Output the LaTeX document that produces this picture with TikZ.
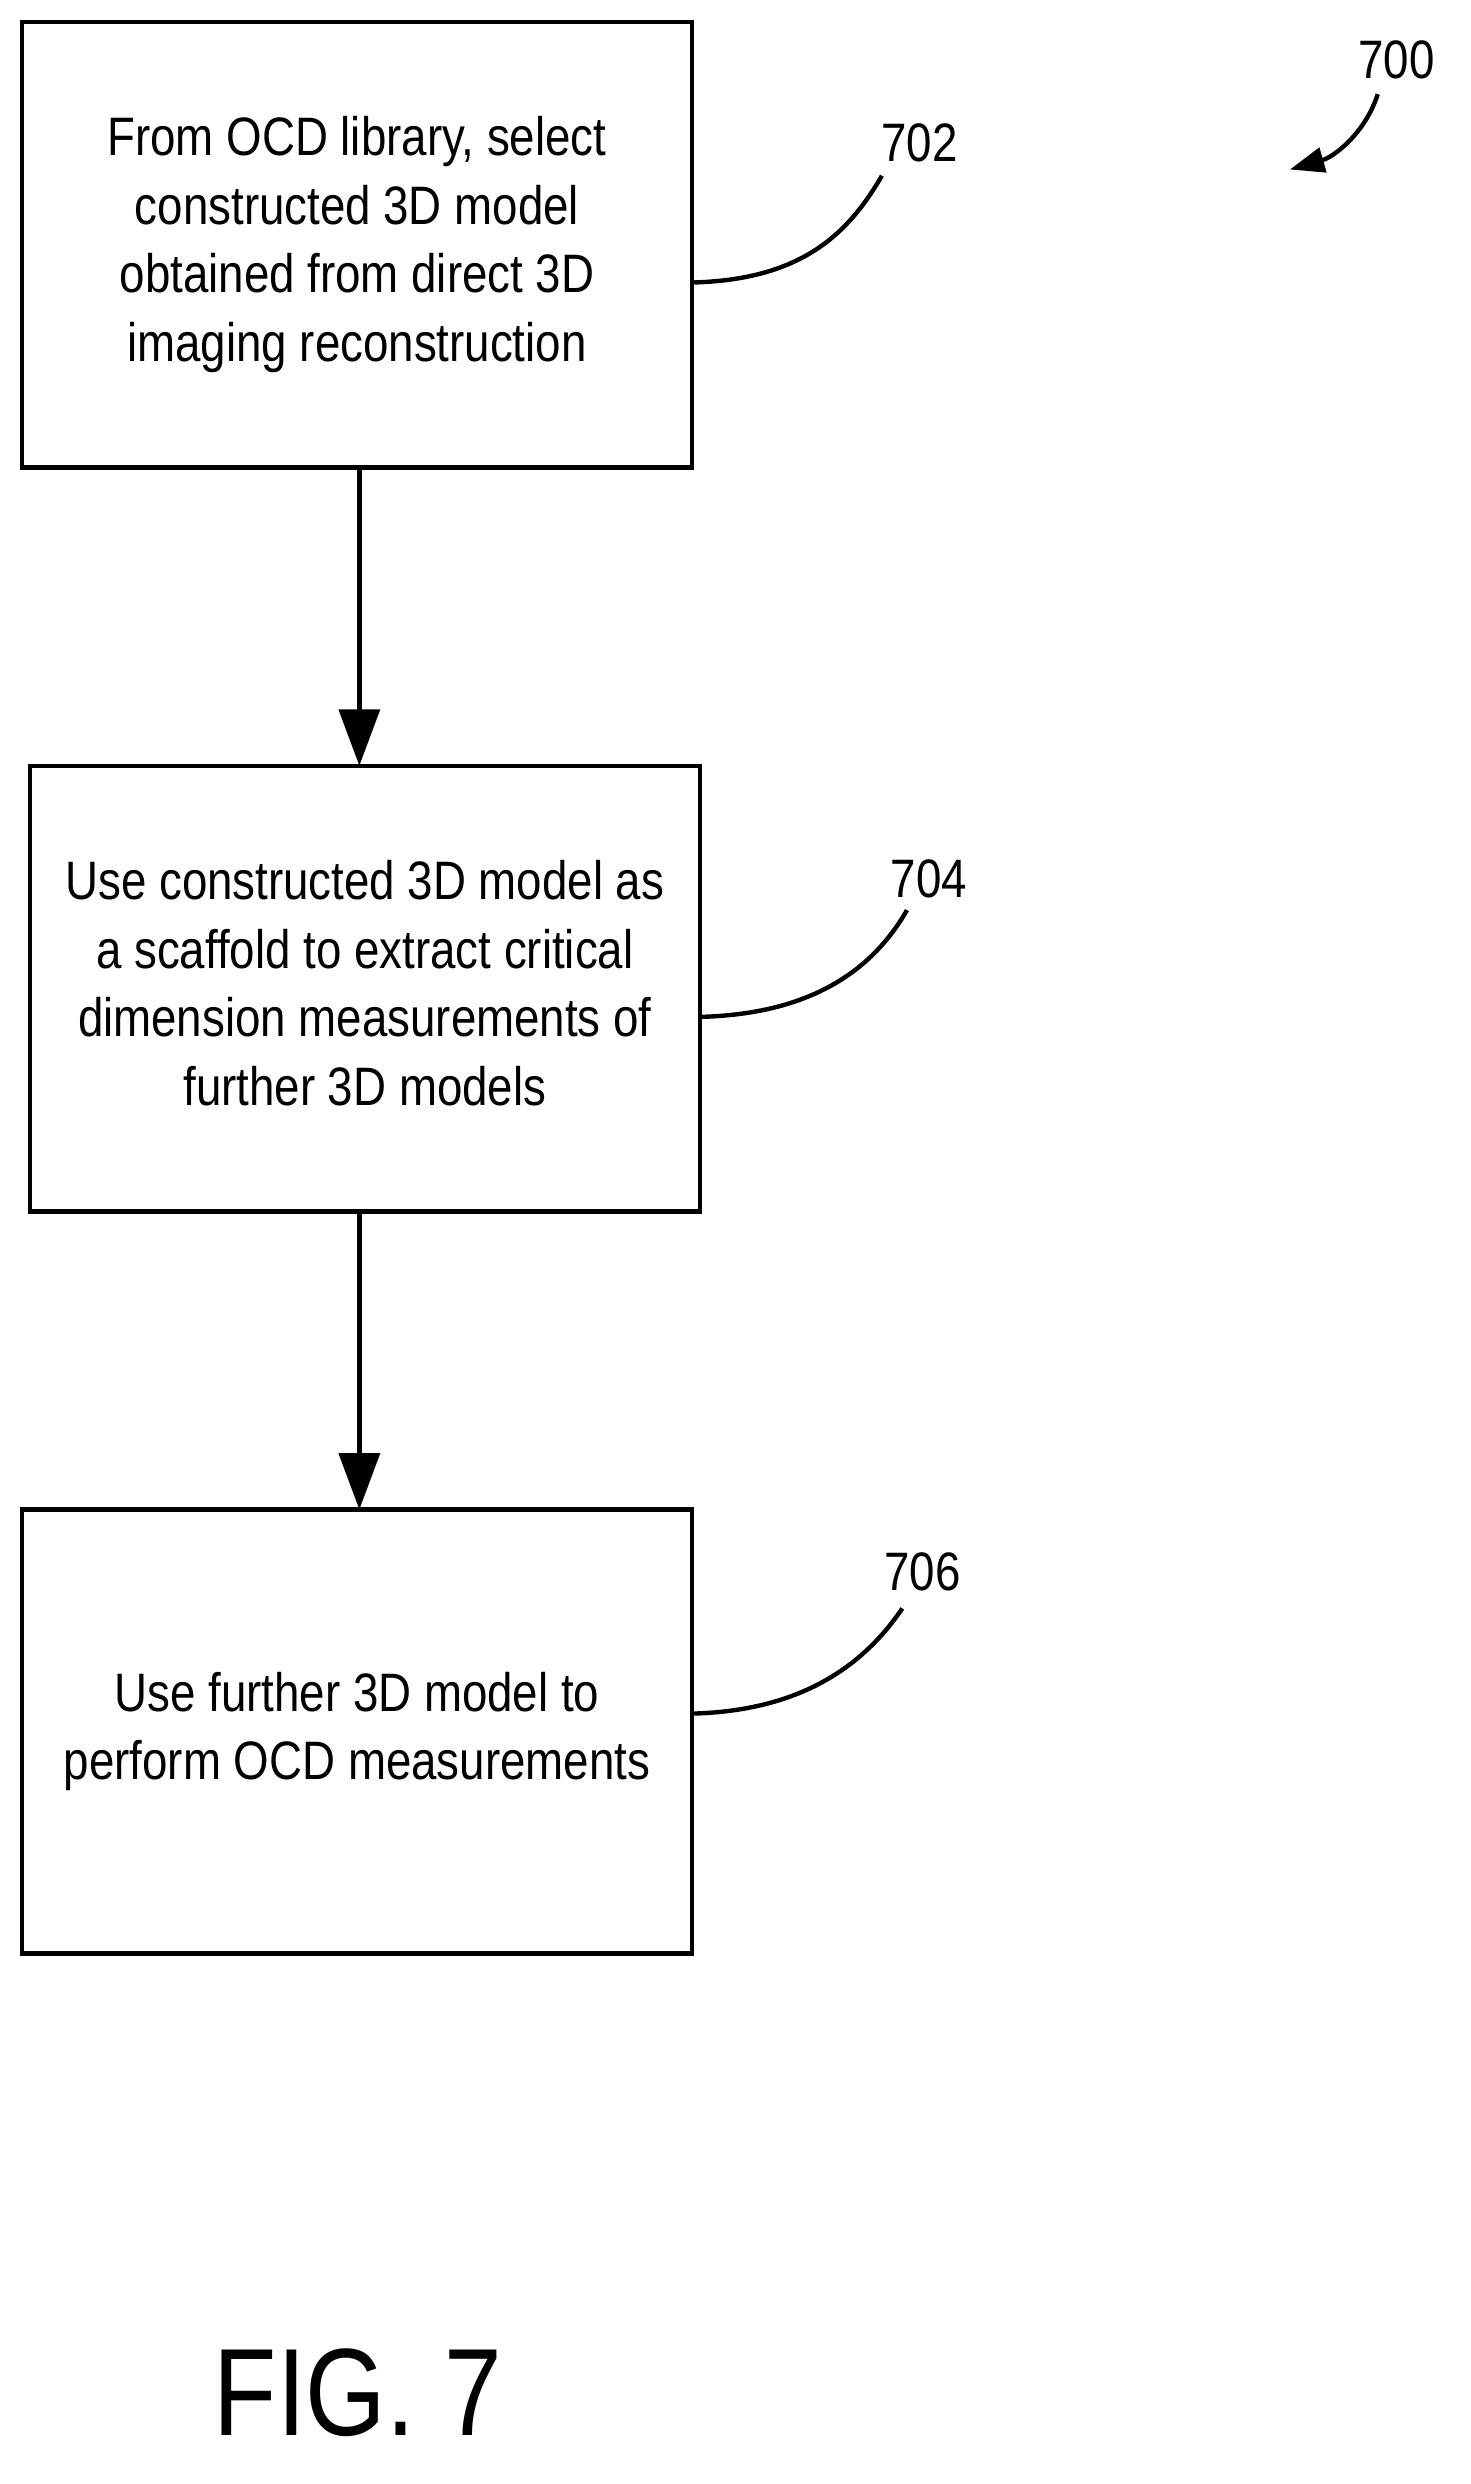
\documentclass[tikz,border=0pt]{standalone}
\usepackage{fontspec}
\setmainfont{Liberation Sans}
\usetikzlibrary{arrows.meta}
\newcommand{\tallt}[1]{\scalebox{0.97}[1.15]{\begin{tabular}{@{}c@{}}#1\end{tabular}}}
\begin{document}
\begin{tikzpicture}[x=1pt,y=-1pt,
  box/.style={draw,line width=2.8pt,align=center,font=\fontsize{30}{38}\selectfont,inner sep=0pt},
  lbl/.style={font=\fontsize{30}{36}\selectfont},
  flow/.style={line width=2.8pt,-{Triangle[length=36pt,width=26pt]}},
  lead/.style={line width=2.8pt}]
\useasboundingbox (0,0) rectangle (937,1583);
\node[box,minimum width=427pt,minimum height=284pt] (b1) at (227.5,156) {\tallt{From OCD library, select\\constructed 3D model\\obtained from direct 3D\\imaging reconstruction}};
\node[box,minimum width=427pt,minimum height=284pt] (b2) at (232.5,630) {\tallt{Use constructed 3D model as\\a scaffold to extract critical\\dimension measurements of\\further 3D models}};
\node[box,minimum width=427pt,minimum height=283pt] (b3) at (227.5,1103.5) {\raisebox{22pt}{\tallt{Use further 3D model to\\perform OCD measurements}}};
\coordinate (a1) at (229,298); \coordinate (a2) at (229,488);
\coordinate (a3) at (229,772); \coordinate (a4) at (229,962);
\draw[flow] (a1) -- (a2);
\draw[flow] (a3) -- (a4);
\node[lbl] (l702) at (586,91) {\scalebox{0.97}[1.15]{702}};
\node[lbl] (l704) at (592,560) {\scalebox{0.97}[1.15]{704}};
\node[lbl] (l706) at (588,1002) {\scalebox{0.97}[1.15]{706}};
\node[lbl] (l700) at (890,38) {\scalebox{0.97}[1.15]{700}};
\draw[lead] (b1.east |- 0,180) .. controls (510,178) and (540,150) .. (562,112);
\draw[lead] (b2.east |- 0,648) .. controls (515,646) and (555,620) .. (578,580);
\draw[lead] (b3.east |- 0,1092) .. controls (510,1090) and (550,1062) .. (575,1025);
\draw[lead,-{Triangle[length=22pt,width=16pt]}] (878,60) .. controls (870,85) and (850,100) .. (822,108);
\node[font=\fontsize{66}{80}\selectfont] (fig) at (228,1525) {\scalebox{1}[1.2]{FIG. 7}};
\end{tikzpicture}
\end{document}
